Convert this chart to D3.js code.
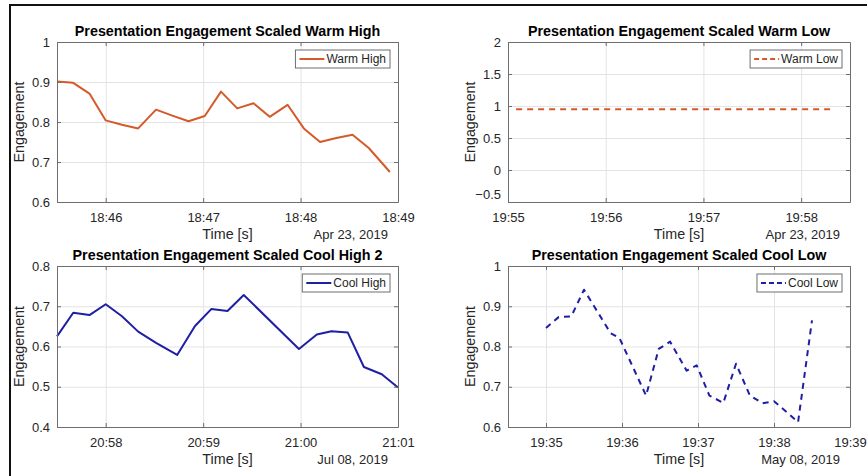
<!DOCTYPE html>
<html>
<head>
<meta charset="utf-8">
<script src="https://cdn.jsdelivr.net/npm/d3@7"></script>
<style>
  html, body { margin: 0; padding: 0; background: #fff; }
  svg { display: block; font-family: "Liberation Sans", Arial, Helvetica, sans-serif; }
</style>
</head>
<body>
<svg id="chart" width="867" height="476"></svg>
<script>
// ---- data -------------------------------------------------------------
const warmHighTimes = ["18:45:30","18:45:40","18:45:50","18:46:00","18:46:10","18:46:20","18:46:31",
  "18:46:41","18:46:51","18:47:01","18:47:11","18:47:21","18:47:31","18:47:41","18:47:52",
  "18:48:02","18:48:12","18:48:22","18:48:32","18:48:42","18:48:55"];
const warmHighValues = [0.901,0.898,0.871,0.804,0.793,0.784,0.831,0.816,0.802,0.815,0.876,
  0.834,0.847,0.813,0.843,0.784,0.750,0.760,0.768,0.735,0.675];

const warmLowTimes = ["19:55:05","19:55:15","19:55:25","19:55:35","19:55:45","19:55:55","19:56:05",
  "19:56:15","19:56:25","19:56:35","19:56:45","19:56:55","19:57:05","19:57:15","19:57:25",
  "19:57:35","19:57:45","19:57:55","19:58:05","19:58:20"];
const warmLowValues = [0.95,0.95,0.95,0.95,0.95,0.95,0.95,0.95,0.95,0.95,
  0.95,0.95,0.95,0.95,0.95,0.95,0.95,0.95,0.95,0.95];

const coolHighTimes = ["20:57:30","20:57:40","20:57:50","20:58:00","20:58:10","20:58:20","20:58:31",
  "20:58:44","20:58:55","20:59:05","20:59:15","20:59:25","20:59:59","21:00:10","21:00:19",
  "21:00:29","21:00:39","21:00:50","21:01:00"];
const coolHighValues = [0.625,0.684,0.678,0.705,0.675,0.637,0.609,0.579,0.651,0.693,0.688,
  0.728,0.594,0.630,0.638,0.635,0.549,0.531,0.498];

const coolLowTimes = ["19:35:00","19:35:10","19:35:20","19:35:30","19:35:51","19:35:58","19:36:19",
  "19:36:29","19:36:38","19:36:51","19:36:59","19:37:09","19:37:20","19:37:30","19:37:41",
  "19:37:51","19:38:00","19:38:10","19:38:19","19:38:30"];
const coolLowValues = [0.846,0.873,0.875,0.941,0.833,0.821,0.678,0.794,0.812,0.740,0.753,
  0.678,0.660,0.757,0.678,0.659,0.664,0.637,0.612,0.865];

const warmHighXTicks = ["18:46","18:47","18:48","18:49"];
const warmLowXTicks  = ["19:55","19:56","19:57","19:58"];
const coolHighXTicks = ["20:58","20:59","21:00","21:01"];
const coolLowXTicks  = ["19:35","19:36","19:37","19:38","19:39"];

const warmHighYTicks = [0.6,0.7,0.8,0.9,1];
const warmLowYTicks  = [-0.5,0,0.5,1,1.5,2];
const coolHighYTicks = [0.4,0.5,0.6,0.7,0.8];
const coolLowYTicks  = [0.6,0.7,0.8,0.9,1];

// ---- panels -----------------------------------------------------------
const parseT = d3.timeParse("%H:%M:%S");
const parseTick = d3.timeParse("%H:%M");

const panels = [
  { title: "Presentation Engagement Scaled Warm High", legend: "Warm High",
    times: warmHighTimes, values: warmHighValues, xTicks: warmHighXTicks, yTicks: warmHighYTicks,
    xDomain: ["18:45:30","18:49:00"], yDomain: [0.6, 1], date: "Apr 23, 2019",
    color: "#d55a2a", dashed: false, box: { x0: 57, x1: 398, y0: 42, y1: 202 } },
  { title: "Presentation Engagement Scaled Warm Low", legend: "Warm Low",
    times: warmLowTimes, values: warmLowValues, xTicks: warmLowXTicks, yTicks: warmLowYTicks,
    xDomain: ["19:55:00","19:58:30"], yDomain: [-0.5, 2], date: "Apr 23, 2019",
    color: "#d55a2a", dashed: true, box: { x0: 508, x1: 850, y0: 42, y1: 202 } },
  { title: "Presentation Engagement Scaled Cool High 2", legend: "Cool High",
    times: coolHighTimes, values: coolHighValues, xTicks: coolHighXTicks, yTicks: coolHighYTicks,
    xDomain: ["20:57:30","21:01:00"], yDomain: [0.4, 0.8], date: "Jul 08, 2019",
    color: "#1f1fa3", dashed: false, box: { x0: 57, x1: 398, y0: 266, y1: 427 } },
  { title: "Presentation Engagement Scaled Cool Low", legend: "Cool Low",
    times: coolLowTimes, values: coolLowValues, xTicks: coolLowXTicks, yTicks: coolLowYTicks,
    xDomain: ["19:34:30","19:39:00"], yDomain: [0.6, 1], date: "May 08, 2019",
    color: "#1f1fa3", dashed: true, box: { x0: 508, x1: 850, y0: 266, y1: 427 } }
];

const svg = d3.select("#chart");
const textColor = "#262626";
const axisColor = "#6e6e6e";
const gridColor = "#e3e3e3";
const tickFmt = d3.format("~g");

// figure frame
svg.append("path")
  .attr("d", "M10,480 L10,5 L870,5")
  .attr("fill", "none").attr("stroke", "#111").attr("stroke-width", 2);

panels.forEach(p => {
  const b = p.box;
  const x = d3.scaleTime().domain(p.xDomain.map(parseT)).range([b.x0, b.x1]);
  const y = d3.scaleLinear().domain(p.yDomain).range([b.y1, b.y0]);
  const xTickVals = p.xTicks.map(parseTick);
  const g = svg.append("g");

  // grid
  g.append("g").call(d3.axisBottom(x).tickValues(xTickVals).tickSize(-(b.y1 - b.y0)).tickFormat(""))
    .attr("transform", `translate(0,${b.y1})`)
    .call(s => s.select(".domain").remove())
    .call(s => s.selectAll("line").attr("stroke", gridColor));
  g.append("g").call(d3.axisLeft(y).tickValues(p.yTicks).tickSize(-(b.x1 - b.x0)).tickFormat(""))
    .attr("transform", `translate(${b.x0},0)`)
    .call(s => s.select(".domain").remove())
    .call(s => s.selectAll("line").attr("stroke", gridColor));

  // data line
  const pts = p.times.map((t, i) => [parseT(t), p.values[i]]);
  g.append("path").datum(pts)
    .attr("fill", "none")
    .attr("stroke", p.color)
    .attr("stroke-width", 2)
    .attr("stroke-linejoin", "round")
    .attr("stroke-dasharray", p.dashed ? "6,5" : null)
    .attr("d", d3.line().x(d => x(d[0])).y(d => y(d[1])));

  // axes: inward ticks on all four sides
  const tl = 4;
  const bottom = g.append("g").attr("transform", `translate(0,${b.y1})`)
    .call(d3.axisBottom(x).tickValues(xTickVals).tickSizeInner(-tl).tickSizeOuter(0)
      .tickPadding(11).tickFormat(d3.timeFormat("%H:%M")));
  const top = g.append("g").attr("transform", `translate(0,${b.y0})`)
    .call(d3.axisTop(x).tickValues(xTickVals).tickSizeInner(-tl).tickSizeOuter(0).tickFormat(""));
  const left = g.append("g").attr("transform", `translate(${b.x0},0)`)
    .call(d3.axisLeft(y).tickValues(p.yTicks).tickSizeInner(-tl).tickSizeOuter(0)
      .tickPadding(7).tickFormat(tickFmt));
  const right = g.append("g").attr("transform", `translate(${b.x1},0)`)
    .call(d3.axisRight(y).tickValues(p.yTicks).tickSizeInner(-tl).tickSizeOuter(0).tickFormat(""));
  [bottom, top, left, right].forEach(a => {
    a.select(".domain").attr("stroke", axisColor);
    a.selectAll(".tick line").attr("stroke", axisColor);
    a.selectAll("text").attr("fill", textColor).style("font-size", "13px")
      .style("font-family", "'Liberation Sans', Arial, sans-serif");
  });
  bottom.selectAll("text").attr("dy", "0.71em");
  // lowest y label of the Warm Low panel sits raised above the first time label
  if (p.yDomain[0] < 0) {
    left.selectAll(".tick").filter(d => d === p.yDomain[0]).select("text").attr("dy", "-0.28em");
  }

  // title
  g.append("text")
    .attr("x", (b.x0 + b.x1) / 2).attr("y", b.y0 - 6)
    .attr("text-anchor", "middle")
    .style("font-size", "14.3px").style("font-weight", "bold").attr("fill", "#000")
    .text(p.title);

  // axis labels
  g.append("text")
    .attr("x", (b.x0 + b.x1) / 2).attr("y", b.y1 + 37)
    .attr("text-anchor", "middle").style("font-size", "14.3px").attr("fill", textColor)
    .text("Time [s]");
  g.append("text")
    .attr("x", b.x1 - 10).attr("y", b.y1 + 37)
    .attr("text-anchor", "end").style("font-size", "13px").attr("fill", textColor)
    .text(p.date);
  g.append("text")
    .attr("transform", `translate(${b.x0 - 33},${(b.y0 + b.y1) / 2}) rotate(-90)`)
    .attr("text-anchor", "middle").style("font-size", "14.3px").attr("fill", textColor)
    .text("Engagement");

  // legend
  const lg = g.append("g");
  const label = lg.append("text").style("font-size", "12px").attr("fill", textColor).text(p.legend);
  const tw = label.node().getComputedTextLength();
  const lw = 4 + 25 + 2 + tw + 4;
  const lx = b.x1 - 8 - lw, ly = b.y0 + 8, lh = 18;
  lg.insert("rect", "text")
    .attr("x", lx).attr("y", ly).attr("width", lw).attr("height", lh)
    .attr("fill", "#fff").attr("stroke", axisColor).attr("stroke-width", 1);
  lg.append("line")
    .attr("x1", lx + 4).attr("x2", lx + 29).attr("y1", ly + lh / 2).attr("y2", ly + lh / 2)
    .attr("stroke", p.color).attr("stroke-width", 2)
    .attr("stroke-dasharray", p.dashed ? "5,3" : null);
  label.attr("x", lx + 31).attr("y", ly + lh / 2).attr("dy", "0.35em");
});
</script>
</body>
</html>
